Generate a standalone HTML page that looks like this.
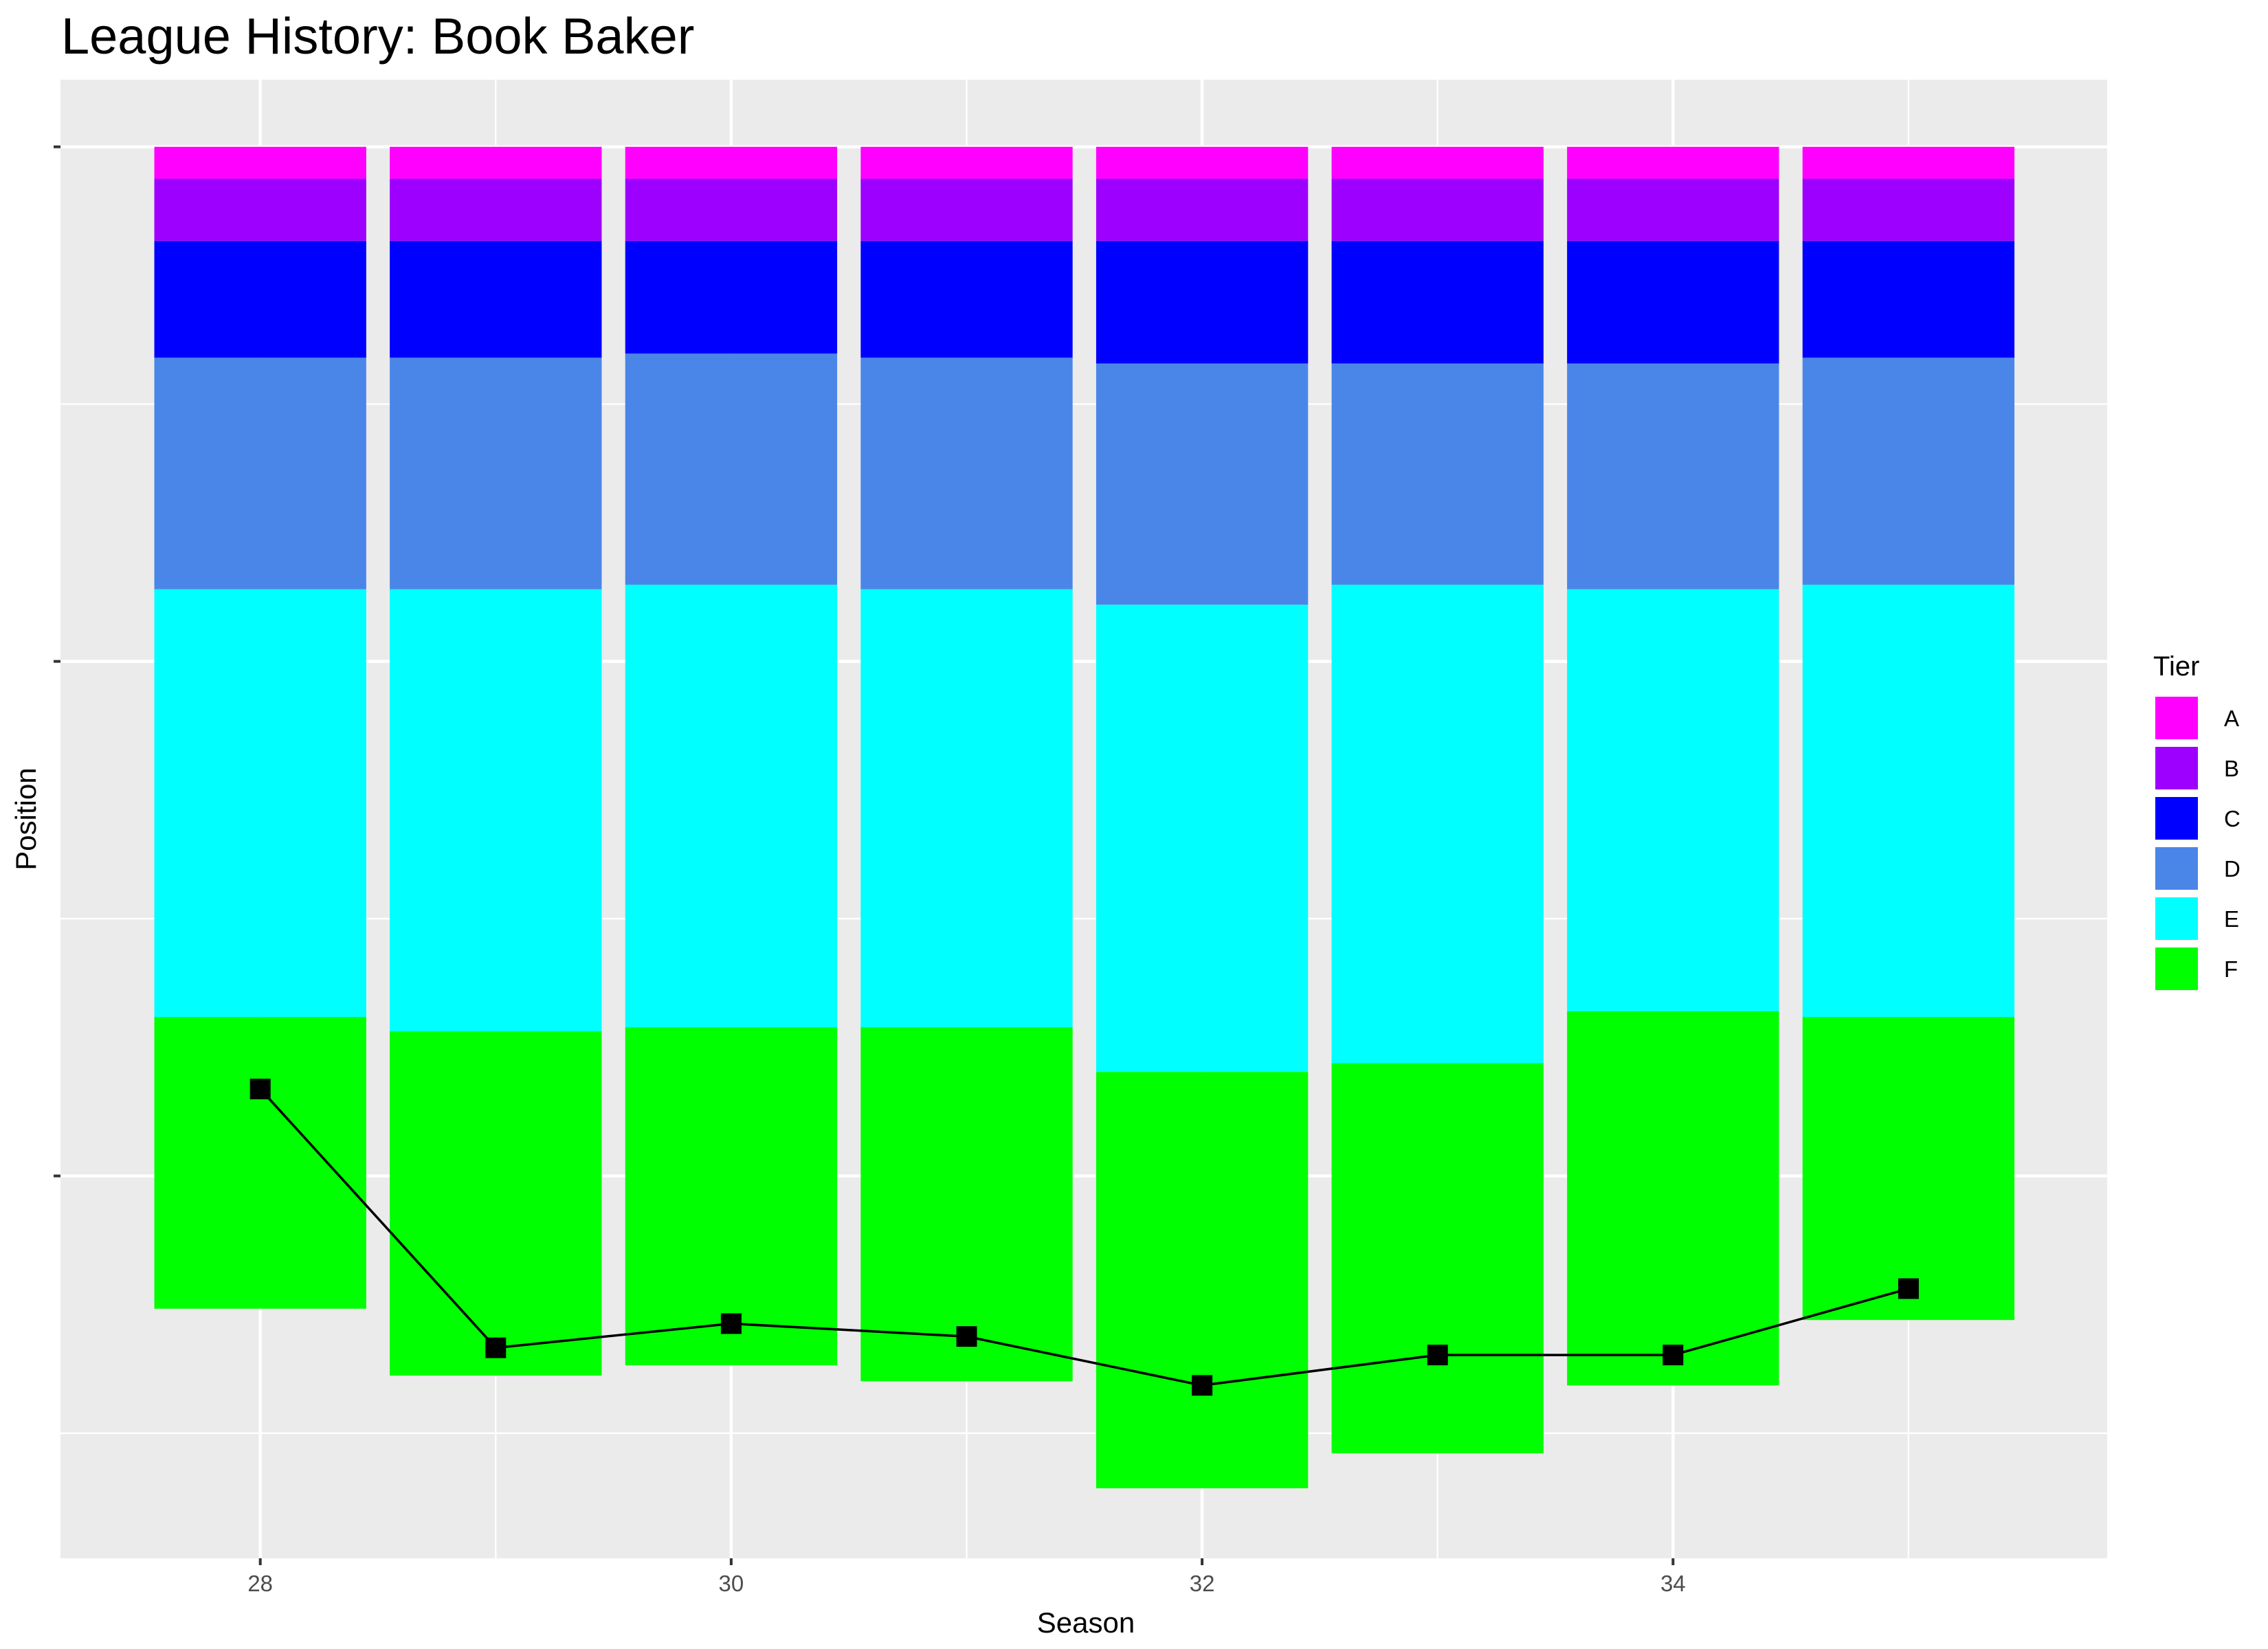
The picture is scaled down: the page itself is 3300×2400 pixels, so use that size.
<!DOCTYPE html>
<html><head><meta charset="utf-8"><style>
html,body{margin:0;padding:0;background:#fff;}
svg{display:block;font-family:"Liberation Sans",sans-serif;}
</style></head><body>
<svg id="chart" width="3300" height="2400" viewBox="0 0 3300 2400" xmlns="http://www.w3.org/2000/svg">
<rect width="3300" height="2400" fill="#fff"/>
<text x="89" y="78" font-size="74" fill="#000">League History: Book Baker</text>
<rect x="88" y="116" width="2978" height="2152" fill="#EBEBEB"/>
<g id="grid"></g><g id="bars"></g><g id="line"></g><g id="axes"></g>
<text x="1580" y="2376" font-size="42" text-anchor="middle" fill="#000">Season</text>
<text x="0" y="0" font-size="42" text-anchor="middle" fill="#000" transform="translate(52,1192) rotate(-90)">Position</text>
<g id="legend"></g>
</svg>
<script>
const seasons = [28,29,30,31,32,33,34,35];
const tiers = ["A","B","C","D","E","F"];
const tierColors = ["#FF00FF","#9D00FF","#0000FF","#4A86E8","#00FFFF","#00FF00"];
const tierA = [6.2,6.2,6.2,6.2,6.2,6.2,6.2,6.2];
const tierB = [12.1,12.1,12.1,12.1,12.1,12.1,12.1,12.1];
const tierC = [22.7,22.7,21.9,22.7,23.8,23.8,23.8,22.7];
const tierD = [45,45,44.9,45,46.9,43,43.9,44.1];
const tierE = [83.1,85.9,86,85.1,90.8,93,82,84];
const tierF = [56.7,66.9,65.7,68.8,80.9,75.8,72.7,58.9];
const positions = [183.1,233.4,228.7,231.2,240.7,234.8,234.8,221.9];
const xTicks = [28,30,32,34];
const xMinor = [27,29,31,33,35];
const yTicks = [0,100,200];
const yMinor = [50,150,250];

const NS="http://www.w3.org/2000/svg";
const PL=88, PR=3066, PT=116, PB=2268;
function xs(v){return 378.7+(v-28)*342.6;}
function ys(v){return 213.7+v*7.489;}
function mk(tag,attrs,parent){const e=document.createElementNS(NS,tag);for(const k in attrs)e.setAttribute(k,attrs[k]);parent.appendChild(e);return e;}
const grid=document.getElementById('grid');
yMinor.forEach(v=>{const l=mk('line',{x1:PL,x2:PR,y1:ys(v),y2:ys(v),stroke:'#fff','stroke-width':2.3},grid);

});
xMinor.forEach(v=>{const l=mk('line',{x1:xs(v),x2:xs(v),y1:PT,y2:PB,stroke:'#fff','stroke-width':2.3},grid);

});
yTicks.forEach(v=>{const l=mk('line',{x1:PL,x2:PR,y1:ys(v),y2:ys(v),stroke:'#fff','stroke-width':4.5},grid);

});
xTicks.forEach(v=>{const l=mk('line',{x1:xs(v),x2:xs(v),y1:PT,y2:PB,stroke:'#fff','stroke-width':4.5},grid);

});

const series=[tierA,tierB,tierC,tierD,tierE,tierF];
const bars=document.getElementById('bars');
seasons.forEach((s,i)=>{
  let cum=0;
  series.forEach((arr,t)=>{
    const y0=ys(cum), y1=ys(cum+arr[i]); cum+=arr[i];
    const r=mk('rect',{x:xs(s-0.45),y:y0,width:xs(s+0.45)-xs(s-0.45),height:y1-y0,fill:tierColors[t]},bars);
    
    
  });
});
const lg=document.getElementById('line');
const pl=mk('polyline',{points:seasons.map((s,i)=>xs(s)+','+ys(positions[i])).join(' '),fill:'none',stroke:'#000','stroke-width':3.5},lg);


seasons.forEach((s,i)=>{const r=mk('rect',{x:xs(s)-15,y:ys(positions[i])-15,width:30,height:30,fill:'#000'},lg);

});

const ax=document.getElementById('axes');
xTicks.forEach(v=>{const l=mk('line',{x1:xs(v),x2:xs(v),y1:PB,y2:PB+10,stroke:'#333','stroke-width':4},ax);


const t=mk('text',{x:xs(v),y:PB+48,'font-size':33,'text-anchor':'middle',fill:'#4D4D4D'},ax);t.textContent=v;

});
yTicks.forEach(v=>{const l=mk('line',{x1:PL-10,x2:PL,y1:ys(v),y2:ys(v),stroke:'#333','stroke-width':4},ax);

});

const leg=document.getElementById('legend');
const lt=mk('text',{x:3133,y:983,'font-size':40,fill:'#000'},leg);lt.textContent='Tier';


tiers.forEach((t,i)=>{const y=1013+i*73;
const r=mk('rect',{x:3135,y:y,width:64,height:64,fill:tierColors[i],stroke:'#fff','stroke-width':2},leg);


const tx=mk('text',{x:3236,y:y+44,'font-size':33,fill:'#000'},leg);tx.textContent=t;

});
</script>
</body></html>
